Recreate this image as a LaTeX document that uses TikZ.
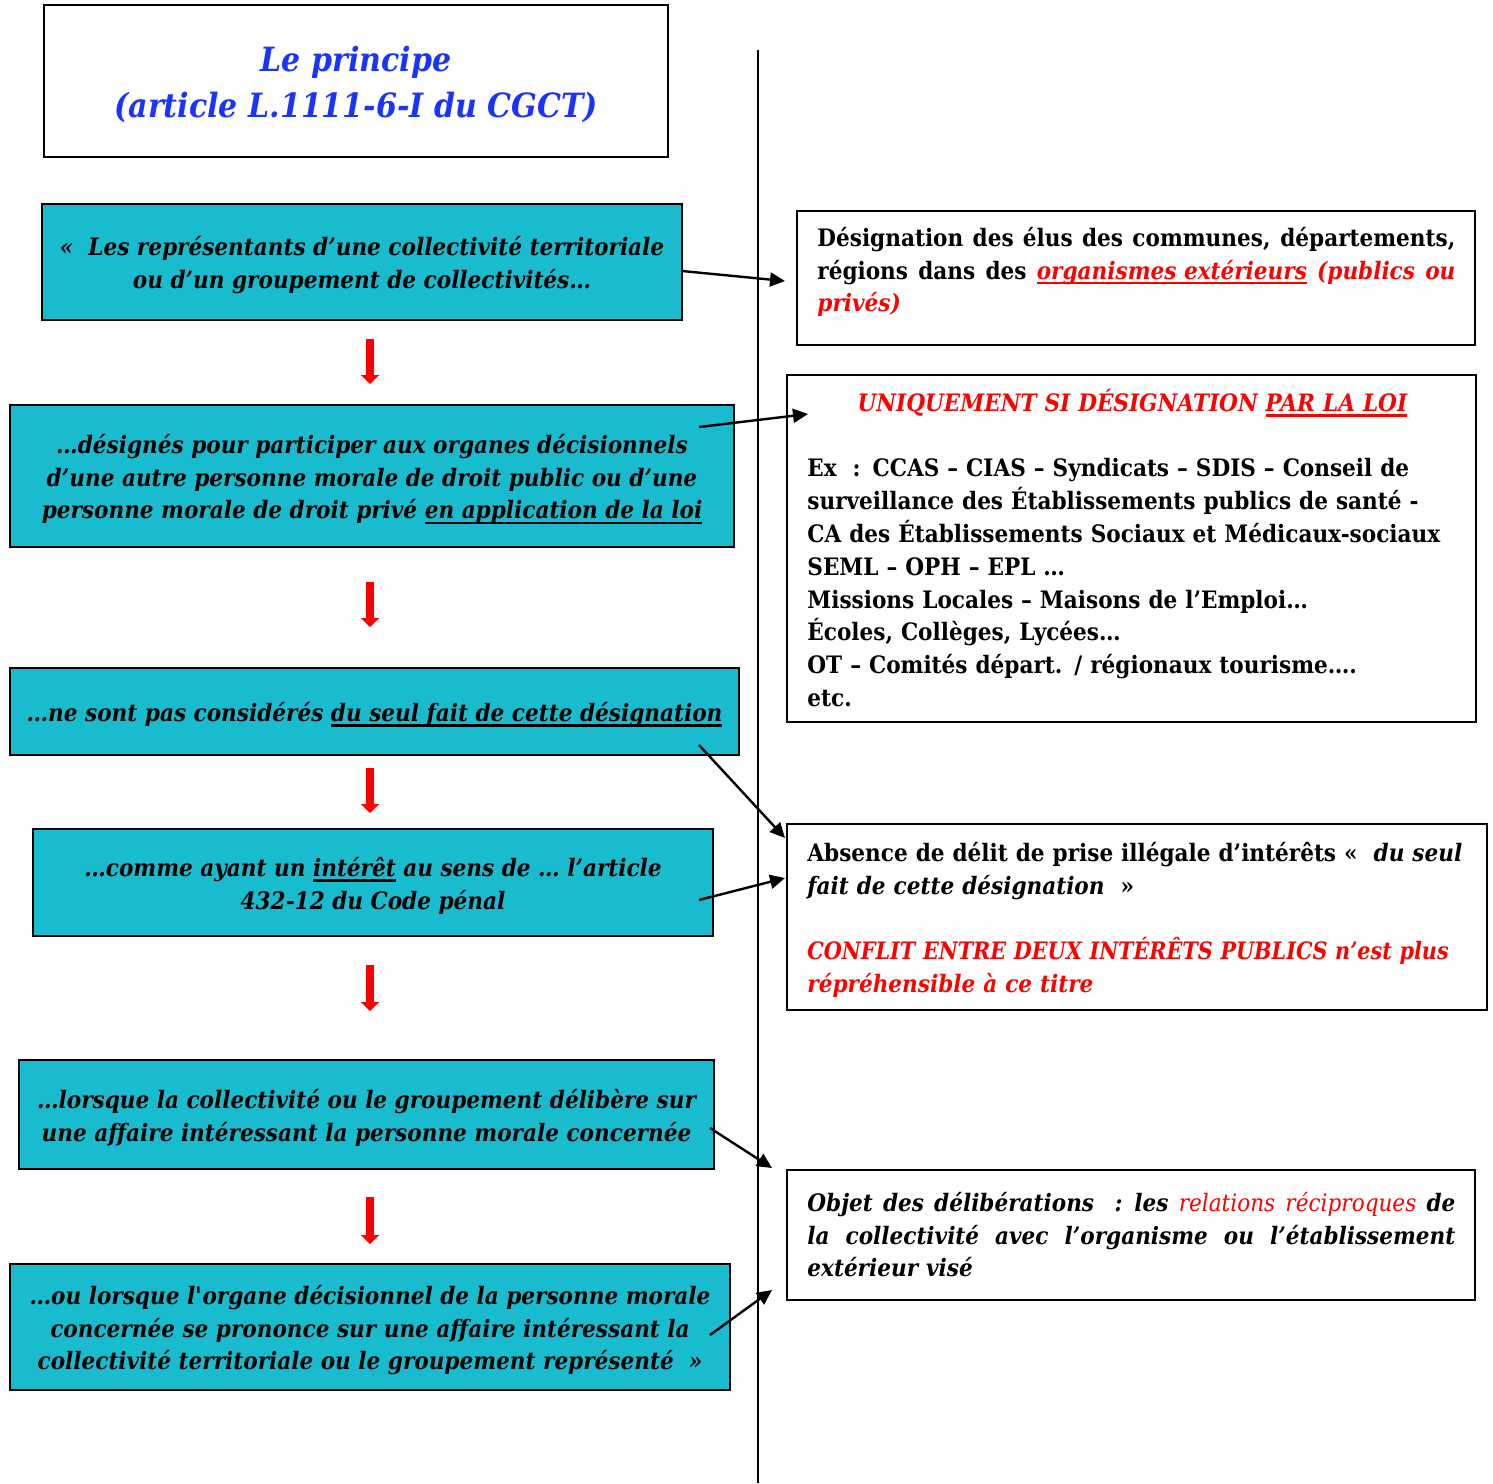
\documentclass[tikz,border=0pt]{standalone}
\usepackage{fontspec}
\usepackage{graphicx}
\setmainfont[FakeStretch=0.9]{DejaVu Serif}
\usetikzlibrary{arrows.meta}
\definecolor{tealc}{RGB}{25,187,206}
\definecolor{titleblue}{RGB}{26,51,255}
\newsavebox\ulbox
\newcommand\ul[1]{\sbox\ulbox{#1}\rlap{\rule[-2.6pt]{\wd\ulbox}{1.2pt}}\usebox\ulbox}
\newcommand\jl[2]{\leavevmode\hbox to #1{\spaceskip=\fontdimen2\font plus 1fil\relax\strut#2}}
\newcommand\tup{\rule{0pt}{12.7pt}}
\tikzset{
  tealbox/.style={draw=black, line width=1.4pt, fill=tealc, align=center, inner sep=0pt,
    font={\bfseries\itshape\fontsize{12}{16.4}\selectfont}},
  whitebox/.style={draw=black, line width=1.4pt, fill=white, inner sep=0pt},
  rtext/.style={anchor=north west, inner sep=0pt, align=left,
    font={\setlength\parindent{0pt}\bfseries\fontsize{12}{16.4}\selectfont}},
  redarr/.style={draw=red, line width=4pt, -{Triangle[length=4.5pt,width=9pt]}},
  blkarr/.style={draw=black, line width=1.2pt, -{Triangle[length=7.5pt,width=7pt]}}
}
\begin{document}
\begin{tikzpicture}[x=0.5pt,y=-0.5pt]
\useasboundingbox (0,0) rectangle (1493,1483);
% vertical separator
\coordinate (vtop) at (758,50);
\coordinate (vbot) at (758,1483);
\draw[line width=1.1pt] (vtop) -- (vbot);

% title
\node[whitebox, minimum width=312pt, minimum height=76pt, align=center, text=titleblue,
  font={\bfseries\itshape\fontsize{16.7}{23}\selectfont}] (title) at (356,81)
  {\rule{0pt}{16.5pt}Le principe\\(article L.1111-6-I du CGCT)};

% teal boxes
\node[tealbox, minimum width=320pt, minimum height=58pt] (b1) at (362,262)
  {\tup«\ \ Les représentants d’une collectivité territoriale\\ou d’un groupement de collectivités…};
\node[tealbox, minimum width=362pt, minimum height=71pt] (b2) at (372,476)
  {\tup…désignés pour participer aux organes décisionnels\\d’une autre personne morale de droit public ou d’une\\personne morale de droit privé \ul{en application de la loi}};
\node[tealbox, minimum width=364.5pt, minimum height=43.5pt] (b3) at (374.5,711.5)
  {\tup…ne sont pas considérés \ul{du seul fait de cette désignation}};
\node[tealbox, minimum width=340pt, minimum height=53.5pt] (b4) at (373,882.5)
  {\tup…comme ayant un \ul{intérêt} au sens de … l’article\\432-12 du Code pénal};
\node[tealbox, minimum width=347.5pt, minimum height=54.5pt] (b5) at (366.5,1114.5)
  {\tup…lorsque la collectivité ou le groupement délibère sur\\une affaire intéressant la personne morale concernée};
\node[tealbox, minimum width=360pt, minimum height=63pt] (b6) at (370,1327)
  {\tup…ou lorsque l\textquotesingle organe décisionnel de la personne morale\\concernée se prononce sur une affaire intéressant la\\collectivité territoriale ou le groupement représenté\ \ »};

% red arrows
\coordinate (ra1s) at (370,339); \coordinate (ra1e) at (370,384);
\coordinate (ra2s) at (370,582); \coordinate (ra2e) at (370,627);
\coordinate (ra3s) at (370,768); \coordinate (ra3e) at (370,813);
\coordinate (ra4s) at (370,965); \coordinate (ra4e) at (370,1011);
\coordinate (ra5s) at (370,1197); \coordinate (ra5e) at (370,1244);
\draw[redarr] (ra1s) -- (ra1e);
\draw[redarr] (ra2s) -- (ra2e);
\draw[redarr] (ra3s) -- (ra3e);
\draw[redarr] (ra4s) -- (ra4e);
\draw[redarr] (ra5s) -- (ra5e);

% right boxes
\node[whitebox, minimum width=339pt, minimum height=67pt] (r1) at (1136,278) {};
\node[rtext, text width=319pt] (r1t) at (817,223)
  {\jl{319pt}{Désignation des élus des communes, départements,}\\
   \jl{319pt}{régions dans des \textcolor{red}{\itshape\ul{organismes extérieurs} (publics ou}}\\
   \textcolor{red}{\itshape privés)}};

\node[whitebox, minimum width=344.5pt, minimum height=173.5pt] (r2) at (1131.5,548.5) {};
\node[rtext, text width=325pt] (r2t) at (807,388)
  {\makebox[325pt][c]{\strut\color{red}\itshape UNIQUEMENT SI DÉSIGNATION \ul{PAR LA LOI}}\\
   \strut\\
   Ex\ \ : CCAS – CIAS – Syndicats – SDIS – Conseil de\\
   surveillance des Établissements publics de santé -\\
   CA des Établissements Sociaux et Médicaux-sociaux\\
   SEML – OPH – EPL …\\
   Missions Locales – Maisons de l’Emploi…\\
   Écoles, Collèges, Lycées…\\
   OT – Comités départ. / régionaux tourisme….\\
   etc.};

\node[whitebox, minimum width=350pt, minimum height=93pt] (r3) at (1137,917) {};
\node[rtext, text width=340pt] (r3t) at (807,838)
  {\strut Absence de délit de prise illégale d’intérêts «\ \ \textit{du seul}\\
   \textit{fait de cette désignation}\ \ »\\
   \strut\\
   \textcolor{red}{\itshape\scalebox{0.96}[1]{CONFLIT ENTRE DEUX INTÉRÊTS PUBLICS n’est plus}}\\
   \textcolor{red}{\itshape répréhensible à ce titre}};

\node[whitebox, minimum width=344pt, minimum height=65pt] (r4) at (1131,1235) {};
\node[rtext, text width=324pt, font={\setlength\parindent{0pt}\bfseries\itshape\fontsize{12}{16.4}\selectfont}] (r4t) at (807,1188)
  {\jl{324pt}{Objet des délibérations\ \ : les \textcolor{red}{\mdseries relations réciproques} de}\\
   \jl{324pt}{la collectivité avec l’organisme ou l’établissement}\\
   extérieur visé};

% black connectors
\coordinate (a1s) at (682,271); \coordinate (a1e) at (785,281);
\coordinate (a2s) at (699,427); \coordinate (a2e) at (808,414);
\coordinate (a3s) at (699,745); \coordinate (a3e) at (785,838);
\coordinate (a4s) at (699,900); \coordinate (a4e) at (785,878);
\coordinate (a5s) at (710,1128); \coordinate (a5e) at (772,1168);
\coordinate (a6s) at (710,1335); \coordinate (a6e) at (772,1290);
\draw[blkarr] (a1s) -- (a1e);
\draw[blkarr] (a2s) -- (a2e);
\draw[blkarr] (a3s) -- (a3e);
\draw[blkarr] (a4s) -- (a4e);
\draw[blkarr] (a5s) -- (a5e);
\draw[blkarr] (a6s) -- (a6e);
\end{tikzpicture}
\end{document}
